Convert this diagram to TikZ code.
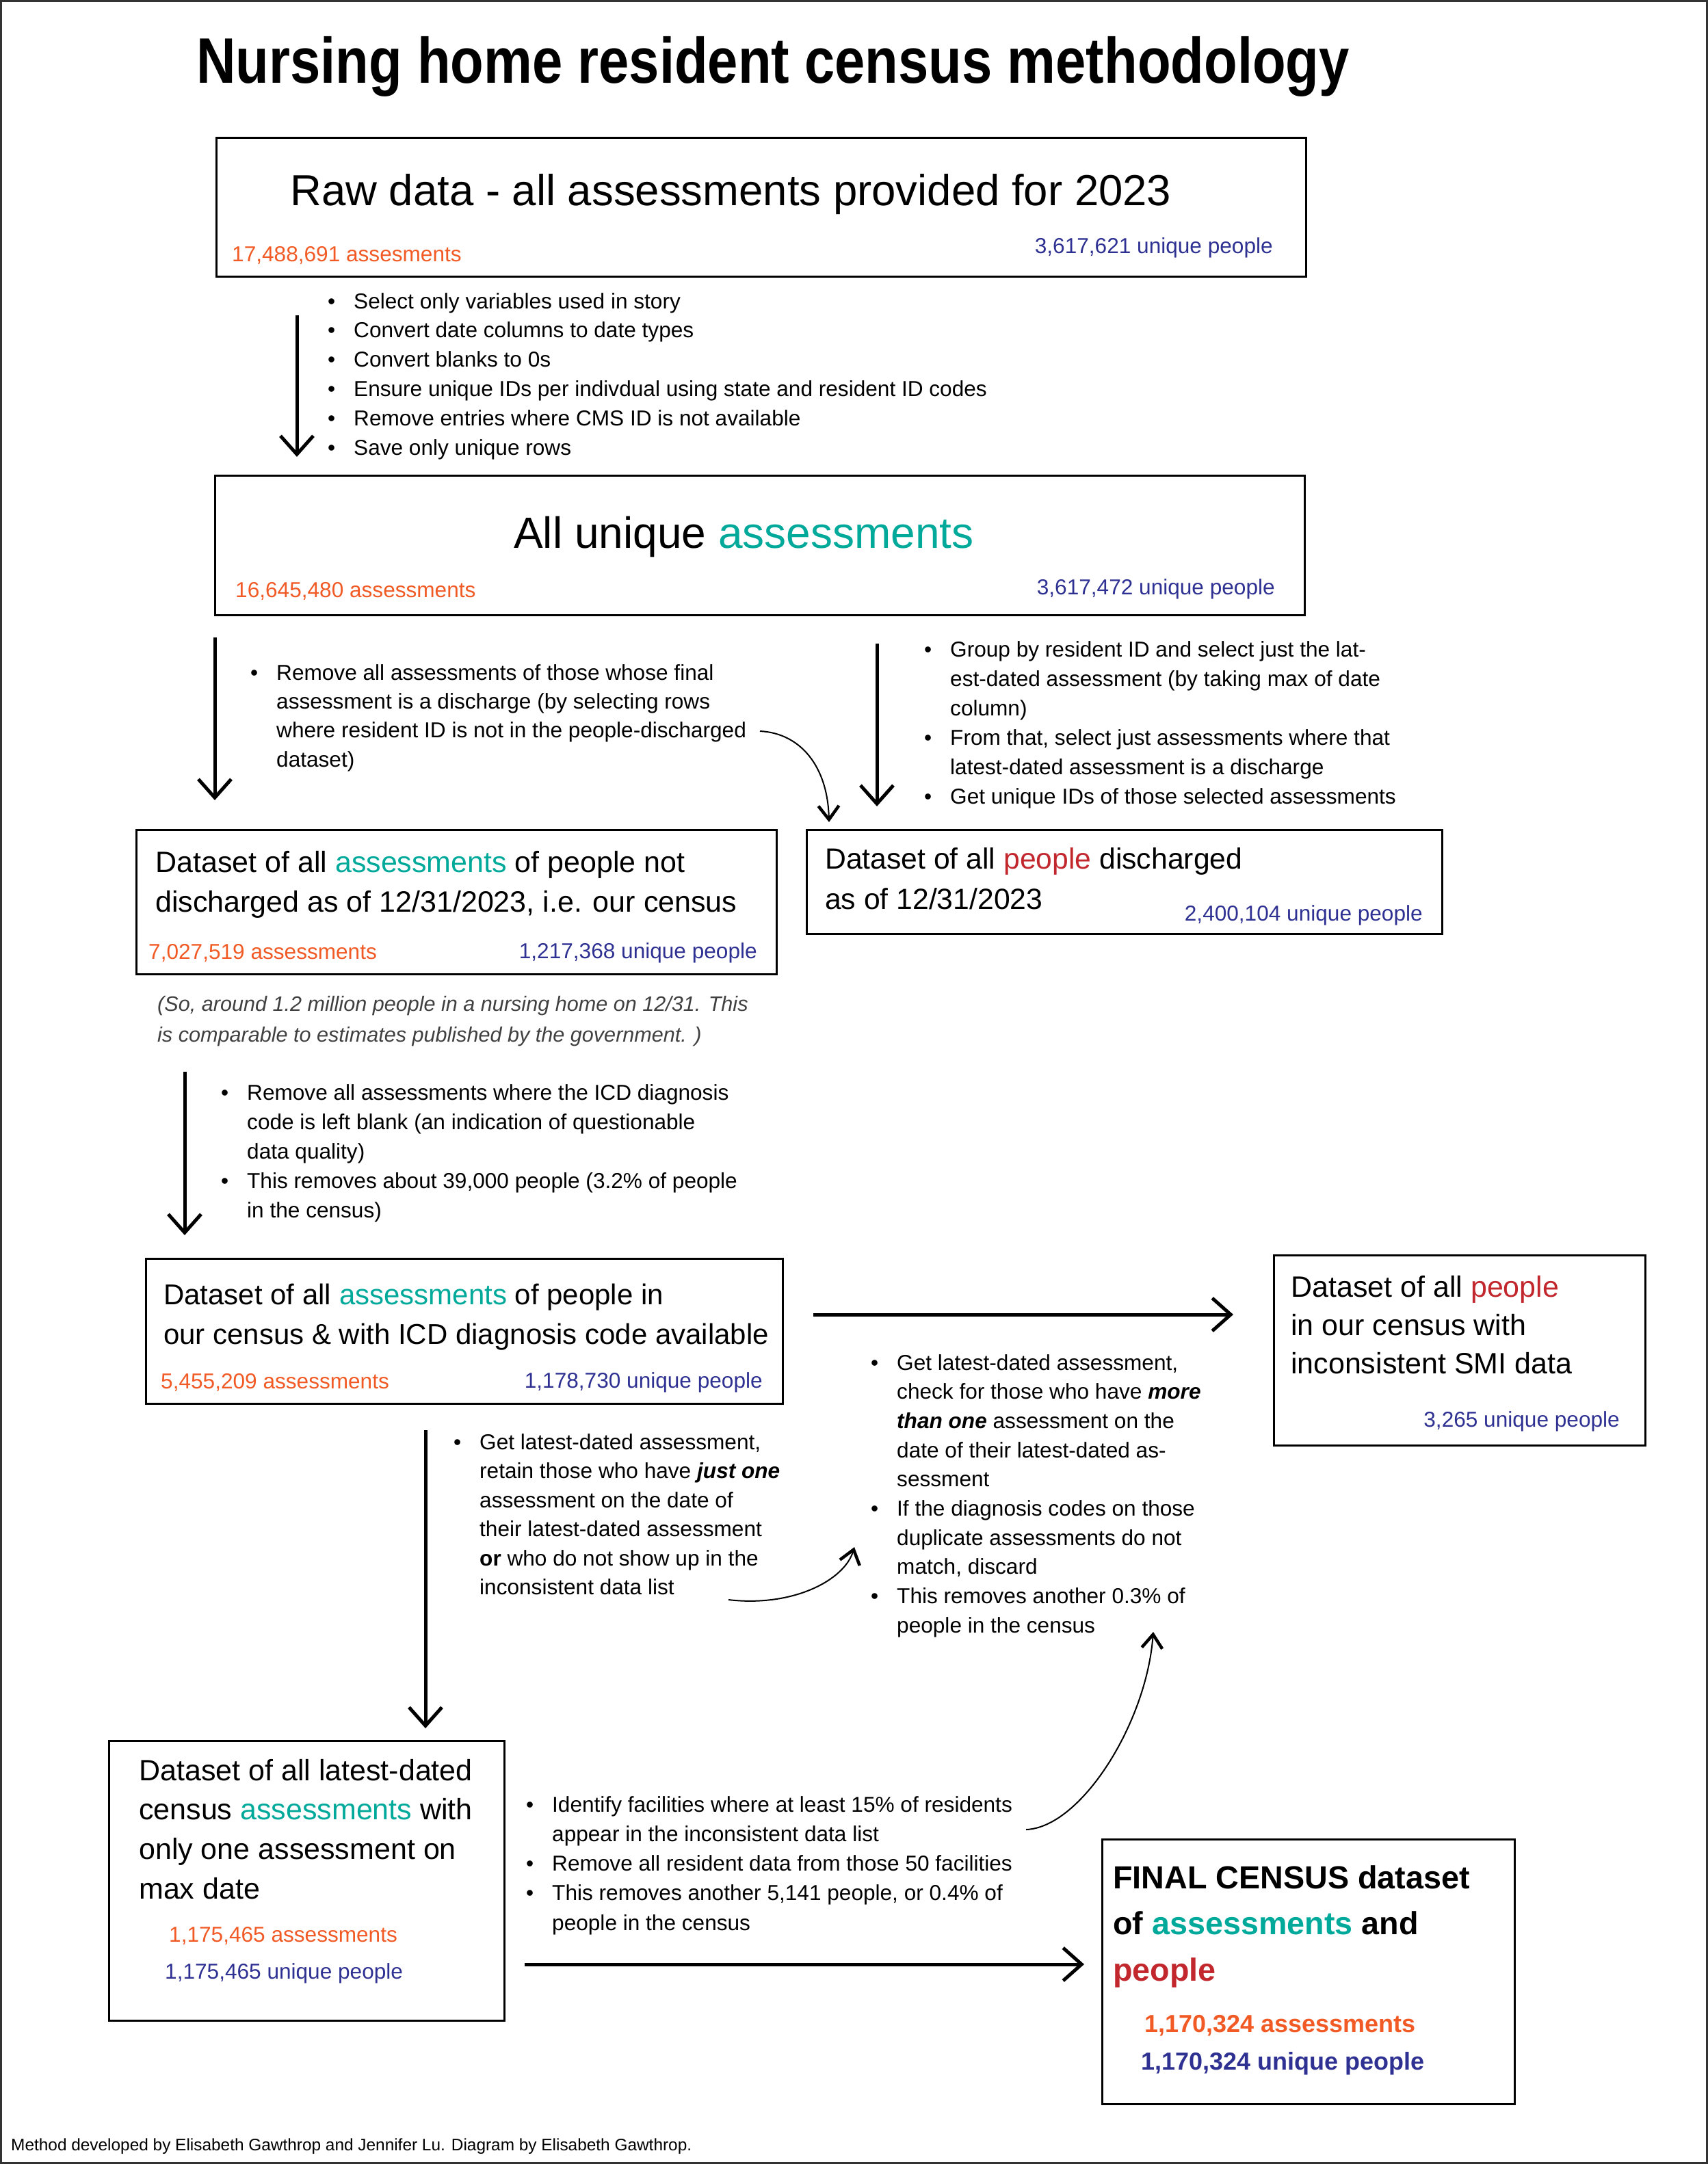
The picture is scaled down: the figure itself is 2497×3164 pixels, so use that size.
\documentclass[tikz,border=0pt]{standalone}
\usepackage{fontspec}
\setmainfont{Liberation Sans}
\newfontfamily\titlefont{Liberation Sans}[FakeStretch=0.847]
\usetikzlibrary{arrows.meta}
\definecolor{cteal}{RGB}{0,169,154}
\definecolor{corange}{RGB}{241,90,36}
\definecolor{cblue}{RGB}{46,49,146}
\definecolor{cred}{RGB}{193,39,45}
\definecolor{cframe}{RGB}{51,51,51}
\newcommand\bul{\makebox[38pt][l]{\textbullet}}
\newcommand\fsz[2]{\fontsize{#1}{#2}\selectfont}
\newcommand\ta[1]{\textcolor{cteal}{#1}}
\newcommand\tp[1]{\textcolor{cred}{#1}}
\newcommand\bi[1]{\textbf{\textit{#1}}}
\begin{document}
\begin{tikzpicture}[x=1pt,y=-1pt,
  box/.style={draw=black, line width=2.5pt, inner sep=0, anchor=north west},
  txt/.style={inner sep=0, anchor=base west},
  txr/.style={inner sep=0, anchor=base east},
  stat/.style={font=\fsz{31.6}{40}},
  bigarr/.style={line width=5pt, -{Straight Barb[length=27pt,width=48pt,line width=5pt]}},
  thinarr/.style={line width=2pt, -{Straight Barb[length=20pt,width=30pt,line width=4.5pt]}}]
\useasboundingbox (0,0) rectangle (2497,3164);
\draw[cframe, line width=6pt] (0,0) rectangle (2497,3164);

% title
\node[txt] (title) at (287,121) {\titlefont\bfseries\fsz{94}{110}Nursing home resident census methodology};

% box 1
\node[box, minimum width=1593pt, minimum height=203pt] (raw) at (315,200) {};
\node[txt, font=\fsz{63.5}{76}] (rawt) at (424,300) {Raw data - all assessments provided for 2023};
\node[txt, stat, text=corange] (rawa) at (339,382) {17,488,691 assesments};
\node[txr, stat, text=cblue] (rawp) at (1861,370) {3,617,621 unique people};

% bullets 1
\node[txt, font=\fsz{31.6}{42.9}] (b1) at (479,451) {\begin{tabular}[t]{@{}l@{}l@{}}
\bul & Select only variables used in story\\
\bul & Convert date columns to date types\\
\bul & Convert blanks to 0s\\
\bul & Ensure unique IDs per indivdual using state and resident ID codes\\
\bul & Remove entries where CMS ID is not available\\
\bul & Save only unique rows
\end{tabular}};
\coordinate (a1s) at (434,461);
\coordinate (a1e) at (434,668);
\draw[bigarr] (a1s) -- (a1e);

% box 2
\node[box, minimum width=1593pt, minimum height=204pt] (uniq) at (313,694) {};
\node[txt, font=\fsz{64}{76}] (uniqt) at (751,801) {All unique \ta{assessments}};
\node[txt, stat, text=corange] (uniqa) at (344,873) {16,645,480 assessments};
\node[txr, stat, text=cblue] (uniqp) at (1864,869) {3,617,472 unique people};

% left bullets 2
\node[txt, font=\fsz{31.6}{42.4}] (b2) at (366,994) {\begin{tabular}[t]{@{}l@{}l@{}}
\bul & Remove all assessments of those whose final\\
 & assessment is a discharge (by selecting rows\\
 & where resident ID is not in the people-discharged\\
 & dataset)
\end{tabular}};
\coordinate (a2s) at (314,932);
\coordinate (a2e) at (314,1170);
\draw[bigarr] (a2s) -- (a2e);

% right bullets
\node[txt, font=\fsz{31.6}{43}] (b3) at (1351,960) {\begin{tabular}[t]{@{}l@{}l@{}}
\bul & Group by resident ID and select just the lat-\\
 & est-dated assessment (by taking max of date\\
 & column)\\
\bul & From that, select just assessments where that\\
 & latest-dated assessment is a discharge\\
\bul & Get unique IDs of those selected assessments
\end{tabular}};
\coordinate (a3s) at (1282,941);
\coordinate (a3e) at (1282,1179);
\draw[bigarr] (a3s) -- (a3e);

% curved arrow 1
\coordinate (c1s) at (1111,1069);
\coordinate (c1e) at (1212,1202);
\draw[thinarr] (c1s) .. controls (1170,1072) and (1210,1120) .. (c1e);

% box 3
\node[box, minimum width=936pt, minimum height=211pt] (cens) at (198,1212) {};
\node[txt, font=\fsz{43}{58}] (censt) at (227,1275) {\begin{tabular}[t]{@{}l@{}}
Dataset of all \ta{assessments} of people not\\
discharged as of 12/31/2023, i.e. our census
\end{tabular}};
\node[txt, stat, text=corange] (censa) at (217,1402) {7,027,519 assessments};
\node[txr, stat, text=cblue] (censp) at (1107,1401) {1,217,368 unique people};

% box 4
\node[box, minimum width=929pt, minimum height=152pt] (disc) at (1178,1212) {};
\node[txt, font=\fsz{42.7}{59}] (disct) at (1206,1270) {\begin{tabular}[t]{@{}l@{}}
Dataset of all \tp{people} discharged\\
as of 12/31/2023
\end{tabular}};
\node[txr, stat, text=cblue] (discp) at (2080,1346) {2,400,104 unique people};

% italic note
\node[txt, font=\fsz{30.6}{45}\itshape, text=black!75] (note) at (230,1478) {\begin{tabular}[t]{@{}l@{}}
(So, around 1.2 million people in a nursing home on 12/31. This\\
is comparable to estimates published by the government. )
\end{tabular}};

% bullets 3
\node[txt, font=\fsz{31.6}{43.2}] (b4) at (323,1608) {\begin{tabular}[t]{@{}l@{}l@{}}
\bul & Remove all assessments where the ICD diagnosis\\
 & code is left blank (an indication of questionable\\
 & data quality)\\
\bul & This removes about 39,000 people (3.2\% of people\\
 & in the census)
\end{tabular}};
\coordinate (a4s) at (270,1567);
\coordinate (a4e) at (270,1806);
\draw[bigarr] (a4s) -- (a4e);

% box 5
\node[box, minimum width=931pt, minimum height=212pt] (icd) at (212,1839) {};
\node[txt, font=\fsz{42}{58}] (icdt) at (239,1907) {\begin{tabular}[t]{@{}l@{}}
Dataset of all \ta{assessments} of people in\\
our census \& with ICD diagnosis code available
\end{tabular}};
\node[txt, stat, text=corange] (icda) at (235,2030) {5,455,209 assessments};
\node[txr, stat, text=cblue] (icdp) at (1115,2029) {1,178,730 unique people};

% arrow to box 6
\coordinate (h1s) at (1189,1922);
\coordinate (h1e) at (1803,1922);
\draw[bigarr] (h1s) -- (h1e);

% box 6
\node[box, minimum width=543pt, minimum height=278pt] (smi) at (1861,1834) {};
\node[txt, font=\fsz{43}{56}] (smit) at (1887,1896) {\begin{tabular}[t]{@{}l@{}}
Dataset of all \tp{people}\\
in our census with\\
inconsistent SMI data
\end{tabular}};
\node[txr, stat, text=cblue] (smip) at (2368,2086) {3,265 unique people};

% middle right bullets
\node[txt, font=\fsz{31.6}{42.7}] (b5) at (1273,2003) {\begin{tabular}[t]{@{}l@{}l@{}}
\bul & Get latest-dated assessment,\\
 & check for those who have \bi{more}\\
 & \bi{than one} assessment on the\\
 & date of their latest-dated as-\\
 & sessment\\
\bul & If the diagnosis codes on those\\
 & duplicate assessments do not\\
 & match, discard\\
\bul & This removes another 0.3\% of\\
 & people in the census
\end{tabular}};

% middle left bullets
\node[txt, font=\fsz{31.6}{42.5}] (b6) at (663,2119) {\begin{tabular}[t]{@{}l@{}l@{}}
\bul & Get latest-dated assessment,\\
 & retain those who have \bi{just one}\\
 & assessment on the date of\\
 & their latest-dated assessment\\
 & \textbf{or} who do not show up in the\\
 & inconsistent data list
\end{tabular}};
\coordinate (a5s) at (622,2091);
\coordinate (a5e) at (622,2527);
\draw[bigarr] (a5s) -- (a5e);

% curved arrow 2
\coordinate (c2s) at (1065,2339);
\coordinate (c2e) at (1249,2262);
\draw[thinarr] (c2s) .. controls (1160,2350) and (1235,2310) .. (c2e);

% box 7
\node[box, minimum width=578pt, minimum height=409pt] (one) at (158,2544) {};
\node[txt, font=\fsz{43}{57.7}] (onet) at (203,2603) {\begin{tabular}[t]{@{}l@{}}
Dataset of all latest-dated\\
census \ta{assessments} with\\
only one assessment on\\
max date
\end{tabular}};
\node[txt, stat, text=corange] (onea) at (247,2839) {1,175,465 assessments};
\node[txt, stat, text=cblue] (onep) at (241,2893) {1,175,465 unique people};

% bottom bullets
\node[txt, font=\fsz{31.6}{43.3}] (b7) at (769,2649) {\begin{tabular}[t]{@{}l@{}l@{}}
\bul & Identify facilities where at least 15\% of residents\\
 & appear in the inconsistent data list\\
\bul & Remove all resident data from those 50 facilities\\
\bul & This removes another 5,141 people, or 0.4\% of\\
 & people in the census
\end{tabular}};

% curved arrow 3
\coordinate (c3s) at (1500,2675);
\coordinate (c3e) at (1686,2386);
\draw[thinarr] (c3s) .. controls (1580,2672) and (1676,2520) .. (c3e);

% arrow to final
\coordinate (h2s) at (767,2872);
\coordinate (h2e) at (1585,2872);
\draw[bigarr] (h2s) -- (h2e);

% box 8
\node[box, minimum width=603pt, minimum height=387pt] (final) at (1610,2688) {};
\node[txt, font=\fsz{46.7}{67.5}\bfseries] (finalt) at (1627,2761) {\begin{tabular}[t]{@{}l@{}}
FINAL CENSUS dataset\\
of \ta{assessments} and\\
\tp{people}
\end{tabular}};
\node[txt, font=\fsz{36}{44}\bfseries, text=corange] (finala) at (1673,2971) {1,170,324 assessments};
\node[txt, font=\fsz{36}{44}\bfseries, text=cblue] (finalp) at (1668,3026) {1,170,324 unique people};

% footer
\node[txt, font=\fsz{24.4}{30}] (foot) at (16,3144) {Method developed by Elisabeth Gawthrop and Jennifer Lu. Diagram by Elisabeth Gawthrop.};
\end{tikzpicture}
\end{document}
